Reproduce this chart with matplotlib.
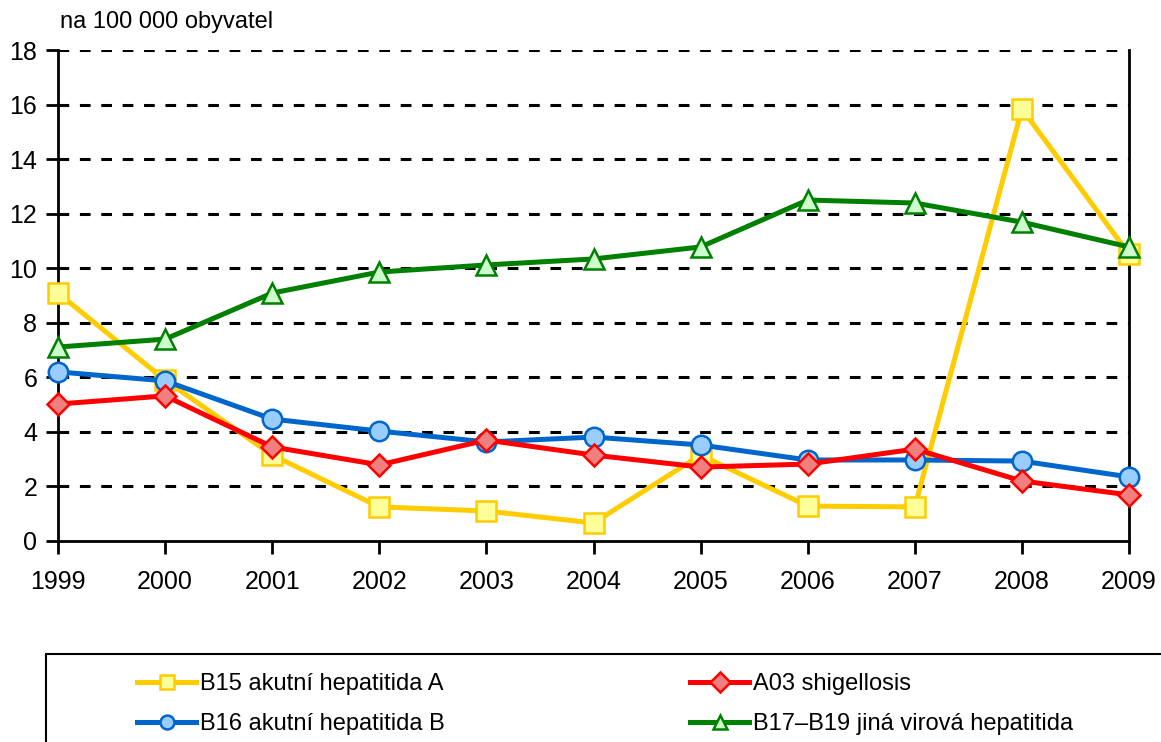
"""
Virová hepatitida a shigellóza, 1999-2009, na 100 000 obyvatel
"""
import matplotlib
matplotlib.use('Agg')
from matplotlib import pyplot as plt
from matplotlib.patches import Rectangle

years = [1999, 2000, 2001, 2002, 2003, 2004, 2005, 2006, 2007, 2008, 2009]
b15 = [9.09, 5.9, 3.15, 1.25, 1.1, 0.66, 3.15, 1.28, 1.25, 15.84, 10.52]
a03 = [5.02, 5.32, 3.45, 2.79, 3.7, 3.15, 2.71, 2.82, 3.37, 2.2, 1.69]
b16 = [6.2, 5.87, 4.47, 4.03, 3.63, 3.81, 3.52, 2.97, 2.97, 2.93, 2.35]
b17 = [7.11, 7.4, 9.09, 9.86, 10.12, 10.34, 10.78, 12.5, 12.39, 11.69, 10.78]
yticks = [0, 2, 4, 6, 8, 10, 12, 14, 16, 18]

plt.rcParams['font.family'] = ['Liberation Sans', 'DejaVu Sans']

fig = plt.figure(figsize=(11.61, 7.42), dpi=100)
ax = fig.add_axes([58 / 1161, 1 - 541 / 742, (1129 - 58) / 1161, (541 - 50) / 742])

# mřížka
for v in yticks[1:]:
    ax.axhline(v, color='black', linestyle=(0, (3.5, 3.5)), linewidth=2.2, zorder=1)

# série: (data, popisek, barva čáry, výplň značky, značka)
serie = [
    (b15, 'B15 akutní hepatitida A', '#FFCC00', '#FFFF99', 's'),
    (b16, 'B16 akutní hepatitida B', '#0066CC', '#99CCFF', 'o'),
    (a03, 'A03 shigellosis', '#FF0000', '#F08080', 'D'),
    (b17, 'B17\u2013B19 jiná virová hepatitida', '#008000', '#CCFFCC', '^'),
]
handles = {}
poradi = [3, 2, 1, 0]
for i in poradi:
    data, label, col, face, mk = serie[i]
    ms = {'s': 14, 'o': 14, 'D': 11, '^': 14}[mk]
    ln, = ax.plot(years, data, color=col, linewidth=3.6, marker=mk, markersize=ms,
                  markerfacecolor=face, markeredgecolor=col, markeredgewidth=1.8,
                  label=label, clip_on=False, zorder=3 + i)
    handles[i] = ln

ax.set_xlim(1999, 2009)
ax.set_ylim(0, 18)
ax.set_xticks(years)
ax.set_yticks(yticks)
ax.tick_params(axis='both', labelsize=18, width=2, length=9, color='black')
ax.tick_params(axis='x', pad=12)
ax.tick_params(axis='y', pad=6)
ax.spines['top'].set_visible(False)
for s in ['left', 'right', 'bottom']:
    ax.spines[s].set_linewidth(2)

fig.text(60 / 1161, 1 - 22 / 742, 'na 100 000 obyvatel', fontsize=17, va='center', ha='left')

# rámeček legendy
fig.patches.append(Rectangle((46 / 1161, 1 - 760 / 742), 1130 / 1161, 106 / 742,
                             transform=fig.transFigure, fill=False, edgecolor='black',
                             linewidth=1.5, clip_on=False))

leg = fig.legend([handles[0], handles[1], handles[2], handles[3]],
                 [serie[0][1], serie[1][1], serie[2][1], serie[3][1]],
                 ncol=2, frameon=False, fontsize=17, loc='upper left',
                 bbox_to_anchor=(128 / 1161, 1 - 664 / 742), handlelength=2.5,
                 handletextpad=0.15, columnspacing=10.4, labelspacing=0.75,
                 borderaxespad=0)
for h in leg.legend_handles:
    h.set_markersize(10)

plt.savefig('out.png', dpi=100)
plt.close()
